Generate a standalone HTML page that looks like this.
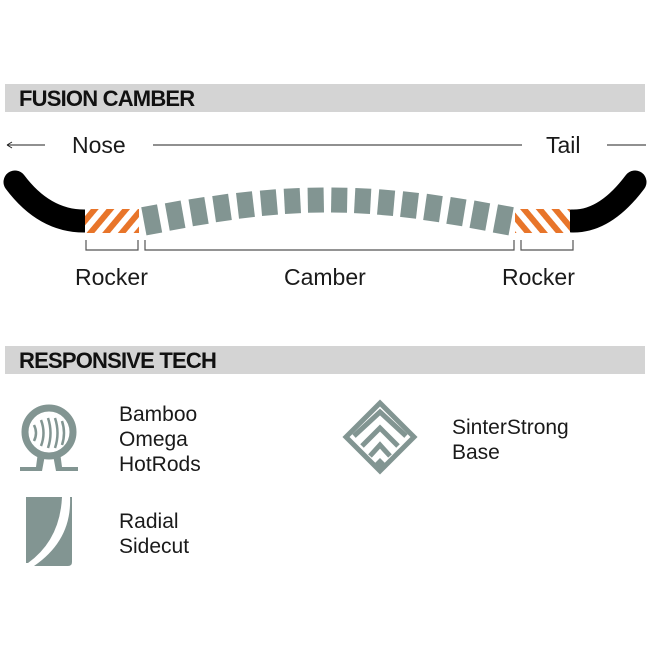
<!DOCTYPE html>
<html><head><style>
body{margin:0;width:650px;height:650px;background:#fff;overflow:hidden;font-family:"Liberation Sans",sans-serif;color:#1a1a1a}
</style></head><body>
<svg width="650" height="650" viewBox="0 0 650 650" xmlns="http://www.w3.org/2000/svg" font-family="Liberation Sans, sans-serif">
<defs>
<pattern id="st" width="12" height="12" patternUnits="userSpaceOnUse" patternTransform="rotate(40)">
<rect width="12" height="12" fill="#fff"/><rect width="6" height="12" fill="#e8752a"/>
</pattern>
<pattern id="st2" width="12" height="12" patternUnits="userSpaceOnUse" patternTransform="rotate(-40)">
<rect width="12" height="12" fill="#fff"/><rect width="6" height="12" fill="#e8752a"/>
</pattern>
</defs>
<rect x="5" y="84" width="640" height="28" fill="#d4d4d4"/>
<text x="19" y="106" font-size="22" font-weight="bold" letter-spacing="-0.8" fill="#111">FUSION CAMBER</text>
<rect x="5" y="346" width="640" height="28" fill="#d4d4d4"/>
<text x="19" y="368" font-size="22" font-weight="bold" letter-spacing="-0.8" fill="#111">RESPONSIVE TECH</text>

<g stroke="#222" stroke-width="1" fill="none">
<path d="M7 145 H45 M7 145 l5 -3 M7 145 l5 3"/>
<path d="M153 145 H522"/>
<path d="M607 145 H646"/>
</g>
<g font-size="23" fill="#1a1a1a">
<text x="72" y="153">Nose</text>
<text x="546" y="153">Tail</text>
<text x="75" y="285">Rocker</text>
<text x="284" y="285">Camber</text>
<text x="502" y="285">Rocker</text>
</g>

<path d="M15 182 Q45 222 86 221" stroke="#000" stroke-width="23" fill="none" stroke-linecap="round"/>
<path d="M635 182 Q605 222 572 221" stroke="#000" stroke-width="23" fill="none" stroke-linecap="round"/>
<rect x="85" y="209" width="54" height="24" fill="url(#st)"/>
<rect x="515" y="209" width="55" height="24" fill="url(#st2)"/>
<g fill="#829592" id="blocks"></g>

<g stroke="#555" stroke-width="1.2" fill="none">
<path d="M86 240 V250 H138 V240"/>
<path d="M145 240 V250 H514 V240"/>
<path d="M521 240 V250 H573 V240"/>
</g>

<g fill="none" stroke="#829592">
<circle cx="49" cy="432" r="24" stroke-width="7"/>
<path d="M34 425 q4 8 0 16 M41 420 q5 13 0 26 M48 418 q5 15 0 30 M55 418 q5 15 0 30 M62 421 q4 12 0 24" stroke-width="2.5"/>
</g>
<path d="M38 452 L36 467 H20 V471 H42 L45 455 Z M60 452 L62 467 H78 V471 H56 L53 455 Z" fill="#829592"/>

<g fill="none" stroke="#829592" stroke-width="5">
<path d="M380 403 L414 437 L380 471 L346 437 Z"/>
<path d="M354 436 L380 412 L406 436"/>
<path d="M362 446 L380 428 L398 446"/>
<path d="M370 456 L380 445 L390 456"/>
</g>
<path d="M380 458 l7 7 -7 7 -7 -7z" fill="#829592"/>

<path d="M26 497 H62 Q60 540 28 563 H26 Z" fill="#829592"/>
<path d="M70 497 Q72 540 34 566 H68 Q72 566 72 562 V497 Z" fill="#829592"/>

<g font-size="21" fill="#1a1a1a">
<text x="119" y="421">Bamboo</text>
<text x="119" y="446">Omega</text>
<text x="119" y="471">HotRods</text>
<text x="452" y="434">SinterStrong</text>
<text x="452" y="459">Base</text>
<text x="119" y="528">Radial</text>
<text x="119" y="553">Sidecut</text>
</g>
</svg>
<script>
var g=document.getElementById('blocks'),s='';
var n=16,x0=140,x1=515,w=(x1-x0)/n;
for(var i=0;i<n;i++){var x=x0+i*w,c=(i+0.5)/n;var cy=222-22*Math.sin(Math.PI*c);var h=25+(1-Math.sin(Math.PI*c))*4;
var ang=-Math.cos(Math.PI*c)*22*Math.PI/(x1-x0)*180/Math.PI;
s+='<rect x="'+(x+(w-16)/2)+'" y="'+(cy-h/2)+'" width="16" height="'+h+'" transform="rotate('+ang+' '+(x+w/2)+' '+cy+')"/>';}
g.innerHTML=s;
</script>
</body></html>
